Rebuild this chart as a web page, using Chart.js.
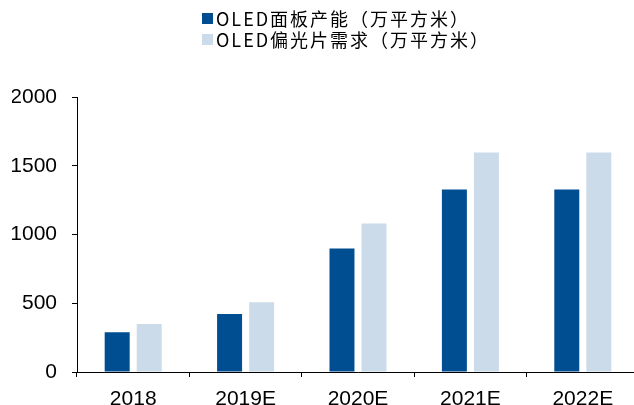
<!DOCTYPE html>
<html>
<head>
<meta charset="utf-8">
<script src="https://cdn.jsdelivr.net/npm/chart.js@4"></script>
<style>
    html, body { margin: 0; padding: 0; background: #fff; overflow: hidden; }
    #wrap { position: relative; width: 640px; height: 408px; }
    #legend {
        position: absolute; left: 202px; top: 8px;
        font-family: "Noto Sans CJK SC", sans-serif; font-size: 18px;
        letter-spacing: 2px; color: #000; line-height: 21px;
    }
    #legend .item { display: flex; align-items: center; white-space: nowrap; }
    #legend .box { width: 11px; height: 11px; margin-right: 3px; }
</style>
</head>
<body>
<div id="wrap">
    <canvas id="chart"></canvas>
    <div id="legend"></div>
</div>
<script>
const categories = ['2018', '2019E', '2020E', '2021E', '2022E'];
const panelCapacity = [290, 422, 898, 1327, 1327];
const polarizerDemand = [349, 508, 1080, 1597, 1597];
const seriesNames = ['OLED面板产能（万平方米）', 'OLED偏光片需求（万平方米）'];
const yTicks = [0, 500, 1000, 1500, 2000];

document.addEventListener('DOMContentLoaded', () => {
    const ctx = document.getElementById('chart').getContext('2d');

    const chart = new Chart(ctx, {
        type: 'bar',
        data: {
            labels: categories,
            datasets: [
                { label: seriesNames[0], data: panelCapacity, backgroundColor: '#004E92' },
                { label: seriesNames[1], data: polarizerDemand, backgroundColor: '#CCDBEA' }
            ]
        },
        options: {
            responsive: true,
            maintainAspectRatio: false,
            animation: false,
            categoryPercentage: 0.57,
            barPercentage: 0.78,
            layout: { padding: { top: 97, left: 12, right: 1, bottom: 0 } },
            plugins: {
                legend: { display: false },
                tooltip: { enabled: false }
            },
            scales: {
                x: {
                    afterFit: axis => { axis.height = 36; },
                    grid: { drawOnChartArea: false, tickLength: 5, color: '#000', offset: true },
                    border: { color: '#000' },
                    ticks: { color: '#000', padding: 10, font: { family: 'Liberation Sans, Arial', size: 21 } }
                },
                y: {
                    min: 0,
                    max: 2000,
                    afterBuildTicks: axis => { axis.ticks = yTicks.map(v => ({ value: v })); },
                    afterFit: axis => { axis.width = 65; },
                    grid: { drawOnChartArea: false, tickLength: 5, color: '#000' },
                    border: { color: '#000' },
                    ticks: {
                        color: '#000', padding: 15,
                        font: { family: 'Liberation Sans, Arial', size: 21 },
                        callback: v => String(v)
                    }
                }
            }
        }
    });

    // legend stacked in two rows, built from the datasets
    const legend = document.getElementById('legend');
    chart.data.datasets.forEach(ds => {
        const item = document.createElement('div');
        item.className = 'item';
        item.innerHTML = `<span class="box" style="background:${ds.backgroundColor}"></span><span>${ds.label}</span>`;
        legend.appendChild(item);
    });
});
</script>
</body>
</html>
